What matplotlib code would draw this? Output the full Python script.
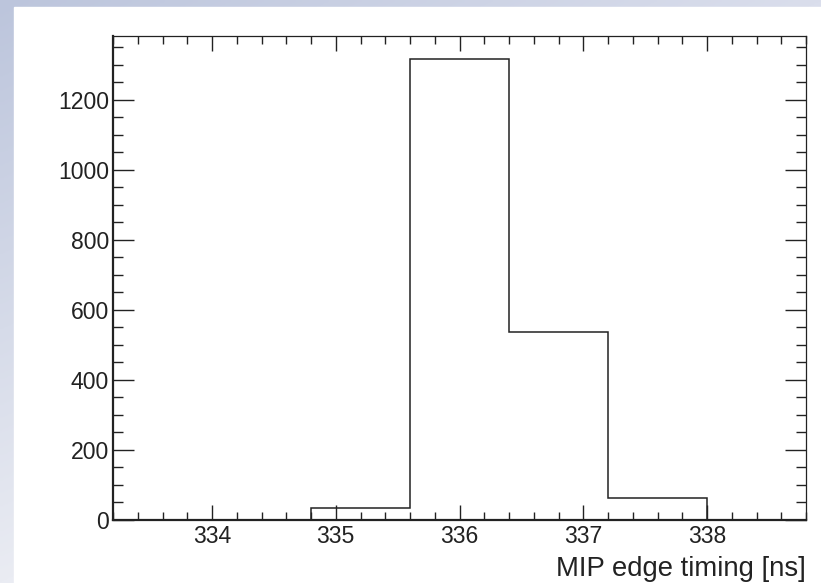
import numpy as np
import matplotlib
matplotlib.use("Agg")
import matplotlib.pyplot as plt
from matplotlib.ticker import MultipleLocator

# histogram data (MIP edge timing)
bin_edges = [333.2, 334.0, 334.8, 335.6, 336.4, 337.2, 338.0, 338.8]
counts = [0, 0, 33, 1317, 537, 62, 0]

plt.rcParams['font.family'] = ['Liberation Sans', 'DejaVu Sans']

fig = plt.figure(figsize=(8.21, 5.83), dpi=100)

# window-like gradient background behind the canvas
bg = fig.add_axes([0, 0, 1, 1])
gx, gy = np.meshgrid(np.linspace(0, 1, 200), np.linspace(0, 1, 200))
top_left = np.array([188, 197, 220]) / 255
top_right = np.array([218, 222, 236]) / 255
bot_left = np.array([234, 236, 243]) / 255
grad = (top_left[None, None, :]
        + gx[..., None] * (top_right - top_left)[None, None, :]
        + gy[..., None] * (bot_left - top_left)[None, None, :])
bg.imshow(np.clip(grad, 0, 1), extent=[0, 1, 0, 1], origin='upper', aspect='auto')
bg.add_patch(plt.Rectangle((14 / 821, 0), 1, 1 - 7 / 583, color='white'))
bg.set_xlim(0, 1)
bg.set_ylim(0, 1)
bg.axis('off')

ax = fig.add_axes([113 / 821, 63 / 583, 693 / 821, 484 / 583])
ax.stairs(counts, bin_edges, color='#222222', lw=1.1)

ax.set_xlim(bin_edges[0], bin_edges[-1])
ax.set_ylim(0, 1.05 * max(counts))

ax.xaxis.set_major_locator(MultipleLocator(1))
ax.xaxis.set_minor_locator(MultipleLocator(0.2))
ax.yaxis.set_major_locator(MultipleLocator(200))
ax.yaxis.set_minor_locator(MultipleLocator(50))

ax.tick_params(axis='x', which='both', direction='in', top=True, labelsize=16.6,
               pad=3.5, color='#222222', width=1, labelcolor='#222222')
ax.tick_params(axis='x', which='major', length=11)
ax.tick_params(axis='x', which='minor', length=5.6)
ax.tick_params(axis='y', which='both', direction='in', right=True, labelsize=16.6,
               pad=3, color='#222222', width=1, labelcolor='#222222')
ax.tick_params(axis='y', which='major', length=15)
ax.tick_params(axis='y', which='minor', length=7.5)

for side in ['left', 'bottom']:
    ax.spines[side].set_linewidth(1.6)
for side in ['top', 'right']:
    ax.spines[side].set_linewidth(0.9)
for sp in ax.spines.values():
    sp.set_color('#222222')

ax.set_xlabel('MIP edge timing [ns]', fontsize=19.8, loc='right', labelpad=6,
              color='#222222')

fig.savefig('out.png', dpi=100)
